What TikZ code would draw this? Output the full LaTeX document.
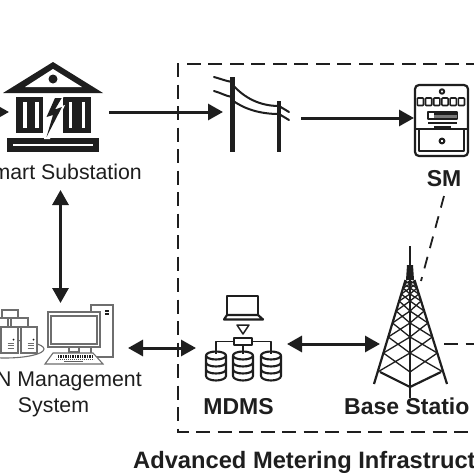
\documentclass[tikz,border=0pt]{standalone}
\usepackage{fontspec}
\setmainfont{Liberation Sans}
\usetikzlibrary{arrows.meta}
\definecolor{ink}{HTML}{1E1E1E}
\definecolor{pcgrey}{HTML}{6E6E6E}
\tikzset{
  flow/.style={draw=ink,line width=3pt,-{Triangle[length=15pt,width=16pt]}},
  flowboth/.style={draw=ink,line width=3pt,{Triangle[length=15pt,width=16pt]}-{Triangle[length=15pt,width=16pt]}},
  boxdash/.style={draw=ink,line width=1.8pt,dash pattern=on 14pt off 7.5pt},
  linkdash/.style={draw=ink,line width=1.8pt,dash pattern=on 12pt off 9pt},
  plainlabel/.style={inner sep=0pt,text=ink,font=\fontsize{21.3}{24}\selectfont},
  boldlabel/.style={inner sep=0pt,text=ink,font=\fontsize{23}{26}\selectfont\bfseries},
  titlelabel/.style={inner sep=0pt,text=ink,font=\fontsize{23.7}{26}\selectfont\bfseries},
  icon/.style={draw=ink,line width=2pt,line join=round},
  pcline/.style={draw=pcgrey,line width=1.1pt,fill=white},
  wire/.style={draw=ink,line width=2pt,line cap=round},
}
\begin{document}
\begin{tikzpicture}[x=1pt,y=-1pt]
\useasboundingbox (0,0) rectangle (474,474);
\fill[white] (0,0) rectangle (474,474);
% named connector ends
\coordinate (subIn) at (9,112);
\coordinate (offLeft) at (-30,112);
\coordinate (subOut) at (109,112);
\coordinate (poleIn) at (223,112);
\coordinate (poleOut) at (301,118);
\coordinate (smIn) at (414,118);
\coordinate (subDown) at (60.5,190);
\coordinate (nmsUp) at (60.5,303);
\coordinate (nmsEast) at (128,348);
\coordinate (mdmsWest) at (196,348);
\coordinate (mdmsEast) at (287,344);
\coordinate (towerWest) at (380,344);
\coordinate (smSouth) at (444,196);
\coordinate (towerNE) at (421,281);
\coordinate (towerEast) at (444,344);
\coordinate (offRight) at (480,344);
% AMI box
\coordinate (boxTL) at (178,64);
\coordinate (boxTR) at (480,64);
\coordinate (boxBL) at (178,432);
\coordinate (boxBR) at (480,432);
\draw[boxdash] (boxTR) -- (boxTL) -- (boxBL) -- (boxBR);
% substation
\fill[ink] (53,62) -- (103,93) -- (3,93) -- cycle;
\fill[white] (53,69) -- (82,87) -- (25,87) -- cycle;
\fill[ink] (53,79) circle (4.5);
\fill[ink] (16,97) rectangle (43,133);
\fill[ink] (63,97) rectangle (91,133);
\fill[white] (23,102) rectangle (26.5,128);
\fill[white] (35,102) rectangle (38.5,128);
\fill[white] (68.5,102) rectangle (72,128);
\fill[white] (81.5,102) rectangle (85,128);
\fill[ink] (7,138) rectangle (99,152);
\fill[white] (13,144) rectangle (93,146.2);
\fill[white] (54,96) -- (44.5,118) -- (50,117) -- (44,139) -- (50,139) -- (65,105) -- (58,107.5) -- (64,96) -- cycle;
\fill[ink] (55,98) -- (46.5,117) -- (53,115) -- (46.5,137) -- (62,107) -- (55,109.5) -- (61.7,98) -- cycle;
% poles
\fill[ink] (229.5,77) rectangle (234.5,152);
\fill[ink] (276.7,101) rectangle (281.3,152);
\draw[wire] (214,77) to[out=-15,in=170] (232,82);
\draw[wire] (214,91) to[out=-15,in=170] (232,97);
\draw[wire] (232,84) .. controls (244,98) and (260,106) .. (279,106);
\draw[wire] (232,100) .. controls (244,109) and (260,114) .. (279,114);
\draw[wire] (279,106) -- (289,112);
\draw[wire] (279,114) -- (289,120);
% smart meter
\draw[icon,line width=2.2pt,rounded corners=4pt] (415,85) rectangle (468,156);
\draw[icon] (415,129) -- (468,129);
\draw[icon] (419,129) -- (419,151) -- (464,151) -- (464,129);
\draw[icon] (442,91.5) circle (2.2);
\foreach \i in {0,...,5} \draw[icon,line width=1.6pt,rounded corners=.8pt] ({417.3+\i*8.2},98) rectangle ++(6.2,7.5);
\draw[icon,line width=1.6pt] (428,112) rectangle (457,119);
\fill[ink] (434,113) rectangle (457,115);
\fill[ink!60] (434,115) rectangle (457,118);
\draw[icon,line width=1.6pt] (428,123) -- (457,123);
\draw[icon,line width=1.6pt] (434,127) -- (451,127);
\draw[icon] (442,141) circle (2.4);
% PC
\draw[pcline] (91,305) rectangle (113,357);
\fill[ink] (104.5,309.5) rectangle (109,311.5);
\fill[ink] (104.5,313) rectangle (109,315);
\draw[pcline] (69,345) rectangle (79,352);
\draw[pcline] (48,312) rectangle (100,347);
\draw[pcline] (51,316) rectangle (97,344);
\draw[pcline] (53,353) -- (93,353) -- (103,364) -- (45,364) -- cycle;
\draw[ink,line width=3pt,dash pattern=on 1.4pt off 1pt] (58,356.5) -- (92,356.5);
\draw[ink!80,line width=1.6pt,dash pattern=on 1.2pt off .8pt] (56,359.5) -- (94,359.5);
\fill[ink!70] (64,360.8) rectangle (83,362.4);
% servers
\draw[pcline] (5,349) ellipse (39 and 9);
\draw[pcline] (2,310) rectangle (18,318);
\draw[pcline] (-2,318) rectangle (8,327);
\draw[pcline] (11,318) rectangle (28,327);
\fill[pcgrey!70] (-3,327) rectangle (1.5,353);
\draw[pcline] (1,327) rectangle (18,353);
\draw[pcline] (21,327) rectangle (37,353);
\foreach \x in {0,20} {
  \fill[ink] ({13.5+\x},339.5) circle (1);
  \foreach \y in {343,345.5,348} \draw[pcgrey,line width=1pt] ({7.5+\x},\y) -- ({14+\x},\y);
}
% MDMS icon
\draw[icon,line width=2.2pt] (227,315) -- (227,296) -- (258,296) -- (258,315);
\draw[icon,line width=2.2pt] (227,315) -- (224,319.5) -- (263,319.5) -- (258,315) -- cycle;
\draw[icon,line width=1.5pt] (237,325) -- (249,325) -- (243,334) -- cycle;
\draw[icon,line width=1.5pt] (234,338) rectangle (252,345);
\draw[icon,line width=1.6pt] (234,341.5) -- (216,341.5) -- (216,354);
\draw[icon,line width=1.6pt] (252,341.5) -- (271,341.5) -- (271,354);
\draw[icon,line width=1.6pt] (243,345) -- (243,354);
\foreach \cx in {216,243,271} {
  \begin{scope}[shift={(\cx,0)}]
    \draw[icon,line width=2.1pt] (0,355.5) ellipse (10 and 4);
    \draw[icon,line width=2.1pt] (-10,355.5) -- (-10,376) arc[start angle=180,end angle=360,x radius=10,y radius=-4.5] -- (10,355.5);
    \draw[icon,line width=2.1pt] (-10,362.5) arc[start angle=180,end angle=360,x radius=10,y radius=-4];
    \draw[icon,line width=2.1pt] (-10,369.5) arc[start angle=180,end angle=360,x radius=10,y radius=-4];
  \end{scope}
}
% tower
\draw[ink,line width=1.8pt] (410,246) -- (410,398);
\fill[ink] (407,265) -- (413,265) -- (414,280) -- (406,280) -- cycle;
\draw[ink,line width=2.2pt] (405.5,280) -- (374,384);
\draw[ink,line width=2.2pt] (414.5,280) -- (447,384);
\draw[ink,line width=2.2pt] (380,372) -- (410,387) -- (441,372);
\foreach \ya/\yb in {372/353,353/337,337/323,323/311,311/301,301/294,294/288,288/284,284/281} {
  \pgfmathsetmacro{\la}{405.5-(\ya-280)*0.3029}
  \pgfmathsetmacro{\lb}{405.5-(\yb-280)*0.3029}
  \pgfmathsetmacro{\ra}{414.5+(\ya-280)*0.3125}
  \pgfmathsetmacro{\rb}{414.5+(\yb-280)*0.3125}
  \draw[ink,line width=1.3pt] (\la,\ya) -- (410,\yb) (410,\ya) -- (\lb,\yb);
  \draw[ink,line width=1.3pt] (\ra,\ya) -- (410,\yb) (410,\ya) -- (\rb,\yb);
}
% labels
\node[plainlabel,anchor=base east] (subLabel) at (142,179) {Smart Substation};
\node[plainlabel,anchor=base east] (nmsLabel) at (142,386) {N Management};
\node[plainlabel,anchor=base] (nmsLabelB) at (53.5,412) {System};
\node[boldlabel,anchor=base] (smLabel) at (444,186) {SM};
\node[boldlabel,anchor=base] (mdmsLabel) at (238.5,414) {MDMS};
\node[boldlabel,anchor=base west] (bsLabel) at (344,414) {Base Statio};
\node[titlelabel,anchor=base west] (amiLabel) at (133,468) {Advanced Metering Infrastruct};
% connectors
\draw[flow] (offLeft) -- (subIn);
\draw[flow] (subOut) -- (poleIn);
\draw[flow] (poleOut) -- (smIn);
\draw[flowboth] (subDown) -- (nmsUp);
\draw[flowboth] (nmsEast) -- (mdmsWest);
\draw[flowboth] (mdmsEast) -- (towerWest);
\draw[linkdash] (smSouth) -- (towerNE);
\draw[boxdash] (towerEast) -- (offRight);
\end{tikzpicture}
\end{document}
